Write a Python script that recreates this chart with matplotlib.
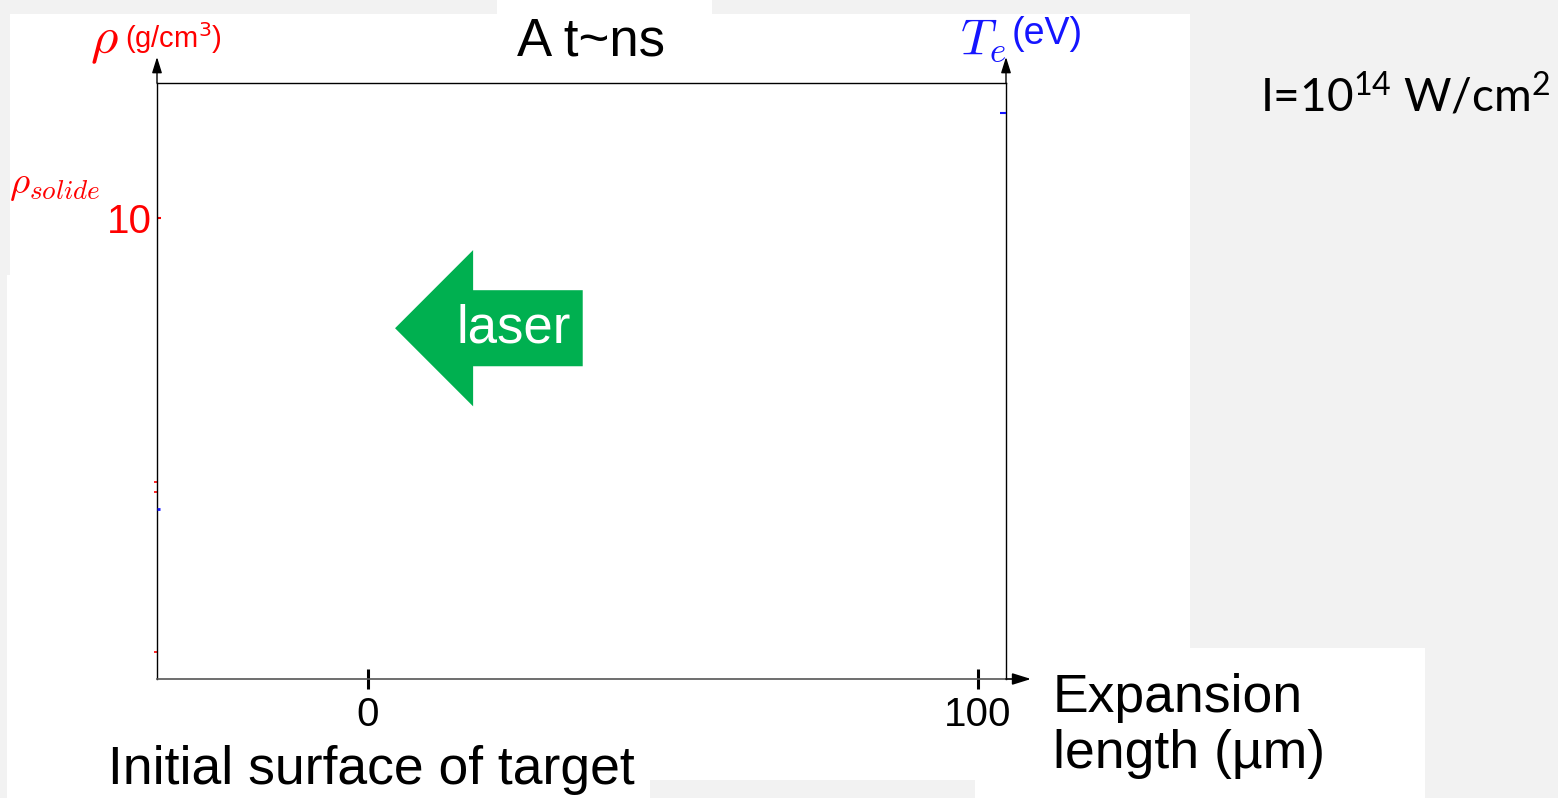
import matplotlib
matplotlib.use("Agg")
import matplotlib.pyplot as plt
from matplotlib.patches import Rectangle, FancyArrow
from matplotlib.ticker import FixedLocator, NullFormatter

# ---------------- data ----------------
x_ticks = [0, 100]
x_tick_labels = ["0", "100"]
x_limits = (-34.6, 104.6)

rho_ticks = [10]
rho_tick_labels = ["10"]
rho_limits = (0, 12.93)
rho_minor_marks = [4.27, 4.06, 0.59]

te_ticks = [95]
te_minor_marks = [28.5]
te_limits = (0, 100)

title_text = "A t~ns"
rho_label = r"$\rho$"
rho_unit = r"(g/cm$^3$)"
te_label = r"$T_e$"
te_unit = "(eV)"
rho_solid_label = r"$\rho_{solide}$"
intensity_text = r"I=10$^{14}$ W/cm$^{2}$"
xlabel_text = "Expansion\nlength (µm)"
surface_text = "Initial surface of target"
laser_text = "laser"

# laser arrow (annotation, in data units)
laser_tail_x, laser_tip_x, laser_y = 35.2, 4.43, 7.61
laser_body_w, laser_head_w, laser_head_len = 1.65, 3.39, 12.8
laser_text_x = 23.8

# ---------------- style ----------------
W, H = 1558, 798
plt.rcParams["mathtext.fontset"] = "custom"
plt.rcParams["mathtext.rm"] = "Lato"
plt.rcParams["mathtext.it"] = "Lato:italic"
plt.rcParams["mathtext.bf"] = "Lato:bold"
ARIAL = "Liberation Sans"
RED = "#ff0000"
BLUE = "#1515ff"
GREEN = "#00b050"


def fx(px):
    return px / W


def fy(py):
    return 1 - py / H


fig = plt.figure(figsize=(W / 100, H / 100), dpi=100, facecolor="#f2f2f2")

# white panels of the slide background
for (x0, y0, x1, y1) in [(10, 14, 1190, 780), (497, 0, 712, 14), (7, 275, 650, 798),
                         (975, 648, 1425, 798)]:
    fig.patches.append(Rectangle((fx(x0), fy(y1)), fx(x1 - x0), (y1 - y0) / H,
                                 transform=fig.transFigure, facecolor="white",
                                 edgecolor="none", zorder=-10))

ax_l, ax_r, ax_t, ax_b = 157, 1006, 83, 679
ax = fig.add_axes([fx(ax_l), fy(ax_b), fx(ax_r - ax_l), (ax_b - ax_t) / H])
ax.set_zorder(1)
ax.set_facecolor("white")
ax.set_xlim(*x_limits)
ax.set_ylim(*rho_limits)

for s in ["left", "right", "top"]:
    ax.spines[s].set_color("black")
    ax.spines[s].set_linewidth(1.0)
ax.spines["bottom"].set_color("#555555")
ax.spines["bottom"].set_linewidth(1.2)

ax.set_xticks(x_ticks)
ax.set_xticklabels(x_tick_labels, fontsize=29, fontfamily=ARIAL)
ax.tick_params(axis="x", direction="inout", length=14, width=2.2, color="black", pad=5)

ax.set_yticks(rho_ticks)
ax.set_yticklabels(rho_tick_labels, fontsize=29, fontfamily=ARIAL, color=RED)
ax.tick_params(axis="y", direction="in", length=3, width=1.5, color=RED, pad=4)
ax.yaxis.set_minor_locator(FixedLocator(rho_minor_marks))
ax.yaxis.set_minor_formatter(NullFormatter())
ax.tick_params(axis="y", which="minor", direction="out", length=2, width=1.2, color=RED)

ax2 = ax.twinx()
ax2.set_ylim(*te_limits)
for s in ax2.spines.values():
    s.set_visible(False)
ax2.set_yticks(te_ticks)
ax2.set_yticklabels([""] * len(te_ticks))
ax2.tick_params(axis="y", which="major", direction="in", length=4, width=1.5, color=BLUE,
                left=False, right=True)
ax2.yaxis.set_minor_locator(FixedLocator(te_minor_marks))
ax2.yaxis.set_minor_formatter(NullFormatter())
ax2.tick_params(axis="y", which="minor", direction="in", length=2, width=2, color=BLUE,
                left=True, right=False)
ax2.set_zorder(2)

# axis arrows
arrow_kw = dict(arrowstyle="-|>,head_length=0.8,head_width=0.25", color="black", lw=1.0,
                shrinkA=0, shrinkB=0, mutation_scale=12)
up = 1 + (ax_t - 57) / (ax_b - ax_t)
ax.annotate("", xy=(0, up), xytext=(0, 1), xycoords="axes fraction",
            arrowprops=arrow_kw, annotation_clip=False)
ax.annotate("", xy=(1, up), xytext=(1, 1), xycoords="axes fraction",
            arrowprops=arrow_kw, annotation_clip=False)
ax.annotate("", xy=(1 + (1031 - ax_r) / (ax_r - ax_l), 0), xytext=(1, 0),
            xycoords="axes fraction",
            arrowprops=dict(arrowstyle="-|>,head_length=0.8,head_width=0.25",
                            color="black", lw=1.2, shrinkA=0, shrinkB=0,
                            mutation_scale=14),
            annotation_clip=False)

# laser arrow
ax.add_patch(FancyArrow(laser_tail_x, laser_y, laser_tip_x - laser_tail_x, 0,
                        width=laser_body_w, head_width=laser_head_w,
                        head_length=laser_head_len, length_includes_head=True,
                        color=GREEN, linewidth=0, zorder=3))
ax.text(laser_text_x, laser_y, laser_text, color="white", fontsize=38, fontfamily=ARIAL,
        ha="center", va="center", zorder=4)

# texts
fig.text(fx(591), fy(42), title_text, fontsize=38, fontfamily=ARIAL, ha="center", va="center")
fig.text(fx(104), fy(40), rho_label, fontsize=38, color=RED, ha="center", va="center",
         math_fontfamily="cm")
fig.text(fx(125), fy(38), rho_unit, fontsize=21, color=RED, ha="left", va="center",
         fontfamily=ARIAL, math_fontfamily="dejavusans")
fig.text(fx(983), fy(40), te_label, fontsize=36, color=BLUE, ha="center", va="center",
         math_fontfamily="cm")
fig.text(fx(1012), fy(34), te_unit, fontsize=27, color=BLUE, ha="left", va="center",
         fontfamily=ARIAL)
fig.text(fx(9), fy(184), rho_solid_label, fontsize=28, color=RED, ha="left", va="center",
         math_fontfamily="cm")
fig.text(fx(1260), fy(96), intensity_text, fontsize=33, fontfamily="Lato", ha="left",
         va="center", math_fontfamily="custom")
fig.text(fx(1053), fy(726), xlabel_text, fontsize=38.5, fontfamily=ARIAL, ha="left",
         va="center", linespacing=1.15)
fig.text(fx(108), fy(770), surface_text, fontsize=38.5, fontfamily=ARIAL, ha="left",
         va="center")

fig.savefig("out.png", dpi=100, facecolor=fig.get_facecolor())
